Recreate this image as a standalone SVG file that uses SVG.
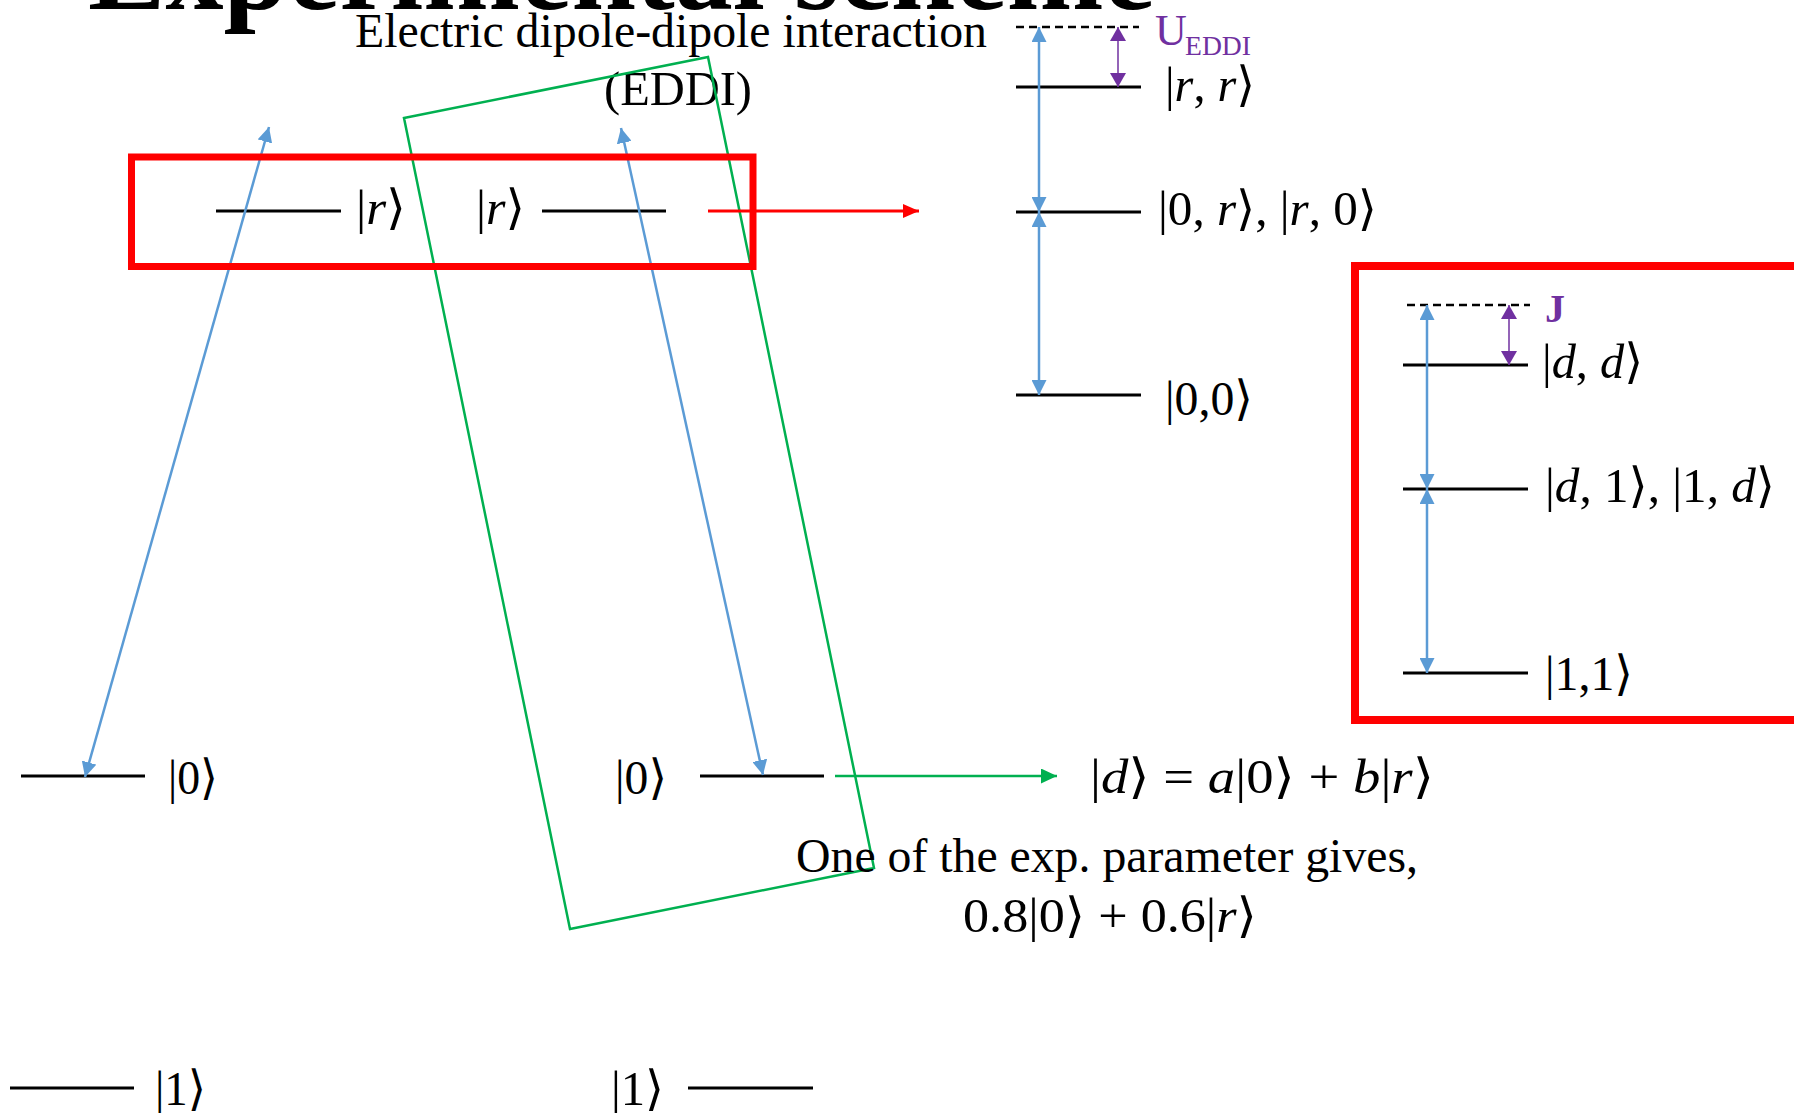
<svg xmlns="http://www.w3.org/2000/svg" width="1794" height="1113" viewBox="0 0 1794 1113">
<style>
.lv{stroke:#000;stroke-width:3;fill:none}
.dash{stroke:#000;stroke-width:2.5;stroke-dasharray:8 5;fill:none}
.ket{font-family:"Liberation Serif","DejaVu Serif",serif;font-size:48px;fill:#000}
.it{font-style:italic}
.tx{font-family:"Liberation Serif","Times New Roman",serif;font-size:48px;fill:#000}
.blue{stroke:#5B9BD5;stroke-width:2.5;fill:none;marker-start:url(#mb);marker-end:url(#mb)}
.purp{stroke:#7030A0;stroke-width:1.5;fill:none;marker-start:url(#mp);marker-end:url(#mp)}
.box{stroke:#FF0000;fill:none}
</style>
<defs>
<marker id="mb" viewBox="0 0 15 15" refX="15" refY="7.5" markerWidth="15" markerHeight="15" orient="auto-start-reverse" markerUnits="userSpaceOnUse"><path d="M0,0 L15,7.5 L0,15 z" fill="#5B9BD5"/></marker>
<marker id="mp" viewBox="0 0 14 16" refX="14" refY="8" markerWidth="14" markerHeight="16" orient="auto-start-reverse" markerUnits="userSpaceOnUse"><path d="M0,0 L14,8 L0,16 z" fill="#7030A0"/></marker>
<marker id="mr" viewBox="0 0 16 14" refX="16" refY="7" markerWidth="16" markerHeight="14" orient="auto" markerUnits="userSpaceOnUse"><path d="M0,0 L16,7 L0,14 z" fill="#FF0000"/></marker>
<marker id="mg" viewBox="0 0 16 15" refX="16" refY="7.5" markerWidth="16" markerHeight="15" orient="auto" markerUnits="userSpaceOnUse"><path d="M0,0 L16,7.5 L0,15 z" fill="#00B050"/></marker>
</defs>
<rect width="1794" height="1113" fill="#fff"/>

<g id="title">
<text x="88" y="9" font-family="Liberation Serif,serif" font-weight="bold" font-size="116" textLength="1067" lengthAdjust="spacingAndGlyphs">Experimental scheme</text>
</g>

<g id="eddi-label">
<text class="tx" x="355" y="47" textLength="632" lengthAdjust="spacingAndGlyphs">Electric dipole-dipole interaction</text>
<text class="tx" x="604" y="105" textLength="148" lengthAdjust="spacingAndGlyphs">(EDDI)</text>
</g>

<g id="eddi-region">
<polygon points="404,118 708,57 874,868 570,929" fill="none" stroke="#00B050" stroke-width="2.5"/>
</g>

<g id="atomA-r">
<line class="lv" x1="216" y1="211" x2="341" y2="211"/>
<text class="ket" x="356" y="224" textLength="50" lengthAdjust="spacingAndGlyphs">|<tspan class="it">r</tspan>⟩</text>
</g>
<g id="atomB-r">
<line class="lv" x1="542" y1="211" x2="666" y2="211"/>
<text class="ket" x="476" y="224" textLength="49" lengthAdjust="spacingAndGlyphs">|<tspan class="it">r</tspan>⟩</text>
</g>
<g id="atomA-0">
<line class="lv" x1="21" y1="776" x2="145" y2="776"/>
<text class="ket" x="168" y="794" textLength="50" lengthAdjust="spacingAndGlyphs">|0⟩</text>
</g>
<g id="atomB-0">
<line class="lv" x1="700" y1="776" x2="824" y2="776"/>
<text class="ket" x="615" y="794" textLength="52" lengthAdjust="spacingAndGlyphs">|0⟩</text>
</g>
<g id="atomA-1">
<line class="lv" x1="10" y1="1088" x2="134" y2="1088"/>
<text class="ket" x="155" y="1105" textLength="51" lengthAdjust="spacingAndGlyphs">|1⟩</text>
</g>
<g id="atomB-1">
<line class="lv" x1="688" y1="1088" x2="813" y2="1088"/>
<text class="ket" x="611" y="1105" textLength="53" lengthAdjust="spacingAndGlyphs">|1⟩</text>
</g>

<g id="dressed-def">
<text class="ket" x="1090" y="793" textLength="344" lengthAdjust="spacingAndGlyphs">|<tspan class="it">d</tspan>⟩ = <tspan class="it">a</tspan>|0⟩ + <tspan class="it">b</tspan>|<tspan class="it">r</tspan>⟩</text>
</g>
<g id="exp-note">
<text class="tx" x="796" y="872" textLength="622" lengthAdjust="spacingAndGlyphs">One of the exp. parameter gives,</text>
<text class="ket" x="963" y="932" textLength="294" lengthAdjust="spacingAndGlyphs">0.8|0⟩ + 0.6|<tspan class="it">r</tspan>⟩</text>
</g>

<g id="pair-levels">
<line class="dash" x1="1016" y1="27" x2="1139" y2="27"/>
<line class="lv" x1="1016" y1="87" x2="1141" y2="87"/>
<line class="lv" x1="1016" y1="212" x2="1141" y2="212"/>
<line class="lv" x1="1016" y1="395" x2="1141" y2="395"/>
<text x="1155" y="45" font-family="Liberation Serif,serif" font-size="44" fill="#7030A0">U</text>
<text x="1185" y="55" font-family="Liberation Serif,serif" font-size="27" fill="#7030A0" textLength="66" lengthAdjust="spacingAndGlyphs">EDDI</text>
<text class="ket" x="1165" y="101" textLength="90" lengthAdjust="spacingAndGlyphs">|<tspan class="it">r</tspan>, <tspan class="it">r</tspan>⟩</text>
<text class="ket" x="1158" y="225" textLength="219" lengthAdjust="spacingAndGlyphs">|0, <tspan class="it">r</tspan>⟩, |<tspan class="it">r</tspan>, 0⟩</text>
<text class="ket" x="1165" y="415" textLength="88" lengthAdjust="spacingAndGlyphs">|0,0⟩</text>
</g>

<g id="dressed-levels">
<line class="dash" x1="1407" y1="305" x2="1530" y2="305"/>
<line class="lv" x1="1403" y1="365" x2="1528" y2="365"/>
<line class="lv" x1="1403" y1="489" x2="1528" y2="489"/>
<line class="lv" x1="1403" y1="673" x2="1528" y2="673"/>
<text x="1545" y="322" font-family="Liberation Serif,serif" font-weight="bold" font-size="40" fill="#7030A0">J</text>
<text class="ket" x="1542" y="378" textLength="101" lengthAdjust="spacingAndGlyphs">|<tspan class="it">d</tspan>, <tspan class="it">d</tspan>⟩</text>
<text class="ket" x="1545" y="502" textLength="230" lengthAdjust="spacingAndGlyphs">|<tspan class="it">d</tspan>, 1⟩, |1, <tspan class="it">d</tspan>⟩</text>
<text class="ket" x="1545" y="690" textLength="88" lengthAdjust="spacingAndGlyphs">|1,1⟩</text>
</g>

<g id="connectors">
<line class="blue" x1="85" y1="777" x2="269" y2="127"/>
<line class="blue" x1="621" y1="128" x2="763" y2="775"/>
<line x1="708" y1="211" x2="919" y2="211" stroke="#FF0000" stroke-width="3" marker-end="url(#mr)"/>
<line x1="835" y1="776" x2="1057" y2="776" stroke="#00B050" stroke-width="2.5" marker-end="url(#mg)"/>
<line class="blue" x1="1039" y1="27" x2="1039" y2="212"/>
<line class="blue" x1="1039" y1="212" x2="1039" y2="395"/>
<line class="purp" x1="1118" y1="27" x2="1118" y2="87"/>
<line class="blue" x1="1427" y1="305" x2="1427" y2="489"/>
<line class="blue" x1="1427" y1="489" x2="1427" y2="673"/>
<line class="purp" x1="1509" y1="305" x2="1509" y2="365"/>
</g>

<g id="boxes">
<rect class="box" x="131.5" y="157" width="621.5" height="109.5" stroke-width="7"/>
<rect class="box" x="1355" y="266" width="520" height="454" stroke-width="8"/>
</g>
</svg>
